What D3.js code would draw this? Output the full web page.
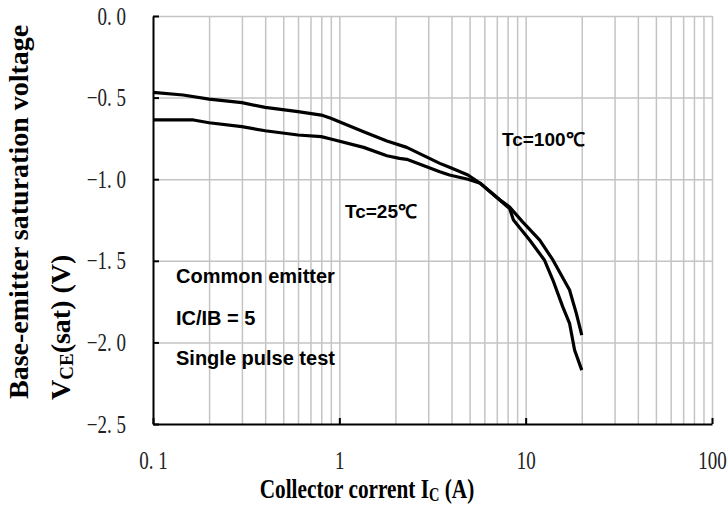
<!DOCTYPE html>
<html>
<head>
<meta charset="utf-8">
<script src="https://cdn.jsdelivr.net/npm/d3@7"></script>
<style>
  body { margin: 0; background: #fff; }
  svg { display: block; }
</style>
</head>
<body>
<svg id="chart" width="728" height="524"></svg>
<script>
// collector current (A) and base-emitter saturation voltage (V)
var hotI = [0.1, 0.145, 0.2, 0.3, 0.4, 0.6, 0.8, 0.9, 1.35, 1.8, 2.3, 3.46, 3.9, 4.9, 5.7, 7.3, 8.2, 8.6, 10.5, 12.6, 14, 15.8, 17.2, 18.3, 20];
var hotV = [-0.468, -0.484, -0.509, -0.531, -0.56, -0.586, -0.607, -0.627, -0.709, -0.766, -0.805, -0.903, -0.927, -0.974, -1.025, -1.13, -1.18, -1.25, -1.373, -1.495, -1.618, -1.781, -1.883, -2.047, -2.17];
var roomI = [0.1, 0.165, 0.2, 0.3, 0.4, 0.6, 0.8, 0.9, 1.35, 1.8, 2.1, 2.3, 3.46, 3.9, 4.9, 5.7, 7.3, 8.2, 9.6, 11.9, 14, 17.2, 18.7, 20];
var roomV = [-0.637, -0.637, -0.654, -0.678, -0.703, -0.729, -0.739, -0.754, -0.805, -0.856, -0.872, -0.878, -0.954, -0.974, -1.0, -1.025, -1.127, -1.17, -1.26, -1.373, -1.495, -1.679, -1.822, -1.955];

var yTicks = [0, -0.5, -1.0, -1.5, -2.0, -2.5];
var yTickLabels = ["0. 0", "\u22120. 5", "\u22121. 0", "\u22121. 5", "\u22122. 0", "\u22122. 5"];
var xTicks = [0.1, 1, 10, 100];
var xTickLabels = ["0. 1", "1", "10", "100"];
var xGrid = [0.2, 0.3, 0.4, 0.5, 0.6, 0.7, 0.8, 0.9, 1, 2, 3, 4, 5, 6, 7, 8, 9, 10, 20, 30, 40, 50, 60, 70, 80, 90, 100];

function drawChart() {
    var svg = d3.select("#chart");
    var x0 = 153, x1 = 712, y0 = 16, y1 = 424;

    var x = d3.scaleLog().domain([0.1, 100]).range([x0, x1]);
    var y = d3.scaleLinear().domain([0, -2.5]).range([y0, y1]);

    // grid
    svg.append("g")
        .attr("transform", "translate(0," + y1 + ")")
        .call(d3.axisBottom(x).tickValues(xGrid).tickSize(-(y1 - y0)).tickFormat(""))
        .call(function(g) {
            g.select(".domain").remove();
            g.selectAll("line").attr("stroke", "#c4c4c4").attr("stroke-width", 1.5);
        });
    svg.append("g")
        .attr("transform", "translate(" + x0 + ",0)")
        .call(d3.axisLeft(y).tickValues(yTicks.slice(0, 5)).tickSize(-(x1 - x0)).tickFormat(""))
        .call(function(g) {
            g.select(".domain").remove();
            g.selectAll("line").attr("stroke", "#c4c4c4").attr("stroke-width", 1.5);
        });

    // axes
    var sx = 0.76;
    svg.append("g")
        .attr("transform", "translate(" + x0 + ",0)")
        .call(d3.axisLeft(y).tickValues(yTicks).tickSizeInner(-6).tickSizeOuter(0)
            .tickFormat(function(d, i) { return yTickLabels[i]; }))
        .call(function(g) {
            g.select(".domain").attr("stroke", "#000").attr("stroke-width", 2);
            g.selectAll("line").attr("stroke", "#000").attr("stroke-width", 2);
            g.selectAll("text")
                .attr("font-family", "Liberation Serif, serif")
                .attr("font-size", 25)
                .attr("fill", "#222")
                .attr("x", -27 / sx)
                .attr("transform", "scale(" + sx + ",1)");
        });

    svg.append("g")
        .attr("transform", "translate(0," + y1 + ")")
        .call(d3.axisBottom(x).tickValues(xTicks).tickSizeInner(-6).tickSizeOuter(0).tickPadding(27)
            .tickFormat(function(d, i) { return xTickLabels[i]; }))
        .call(function(g) {
            g.select(".domain").attr("stroke", "#000").attr("stroke-width", 2);
            g.selectAll("line").attr("stroke", "#000").attr("stroke-width", 2);
            g.selectAll("text")
                .attr("font-family", "Liberation Serif, serif")
                .attr("font-size", 25)
                .attr("fill", "#222")
                .attr("transform", "scale(" + sx + ",1)");
        });

    // curves
    var line = d3.line()
        .x(function(d) { return x(d[0]); })
        .y(function(d) { return y(d[1]); });

    [[hotI, hotV], [roomI, roomV]].forEach(function(s) {
        svg.append("path")
            .datum(d3.zip(s[0], s[1]))
            .attr("d", line)
            .attr("fill", "none")
            .attr("stroke", "#000")
            .attr("stroke-width", 3.2)
            .attr("stroke-linejoin", "round");
    });

    // labels inside the plot
    var notes = svg.append("g")
        .attr("font-family", "Liberation Sans, Arial, sans-serif")
        .attr("font-weight", "bold")
        .attr("fill", "#000");
    notes.append("text").attr("x", 176).attr("y", 283).attr("font-size", 20).text("Common emitter");
    notes.append("text").attr("x", 176).attr("y", 325).attr("font-size", 20).text("IC/IB = 5");
    notes.append("text").attr("x", 176).attr("y", 365).attr("font-size", 20).text("Single pulse test");
    notes.append("text").attr("x", 345).attr("y", 218).attr("font-size", 19).text("Tc=25\u2103");
    notes.append("text").attr("x", 502).attr("y", 146).attr("font-size", 19).text("Tc=100\u2103");

    // axis titles
    var xt = svg.append("text")
        .attr("transform", "translate(367,498) scale(0.76,1)")
        .attr("text-anchor", "middle")
        .attr("font-family", "Liberation Serif, Times New Roman, serif")
        .attr("font-weight", "bold")
        .attr("font-size", 28);
    xt.append("tspan").text("Collector corrent I");
    xt.append("tspan").attr("font-size", 19).attr("dy", 3).text("C");
    xt.append("tspan").attr("dy", -3).text(" (A)");

    svg.append("text")
        .attr("transform", "translate(28,399) rotate(-90)")
        .attr("font-family", "Liberation Serif, Times New Roman, serif")
        .attr("font-weight", "bold")
        .attr("font-size", 28)
        .text("Base-emitter saturation voltage");

    var yt = svg.append("text")
        .attr("transform", "translate(70,400) rotate(-90)")
        .attr("font-family", "Liberation Serif, Times New Roman, serif")
        .attr("font-weight", "bold")
        .attr("font-size", 28);
    yt.append("tspan").text("V");
    yt.append("tspan").attr("font-size", 19).attr("dy", 3).text("CE");
    yt.append("tspan").attr("dy", -3).text("(sat) (V)");
}

drawChart();
</script>
</body>
</html>
